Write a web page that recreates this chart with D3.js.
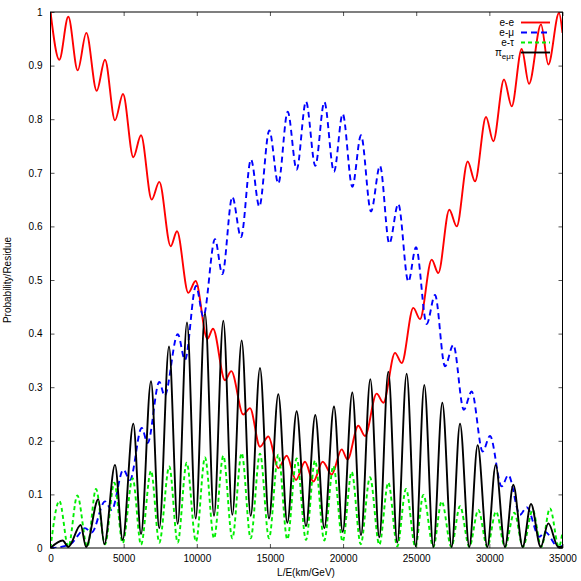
<!DOCTYPE html>
<html>
<head>
<meta charset="utf-8">
<script src="https://cdn.jsdelivr.net/npm/d3@7"></script>
<style>
  html, body { margin: 0; padding: 0; background: #fff; }
  text { font-family: "Liberation Sans", Arial, sans-serif; }
</style>
</head>
<body>
<svg id="chart" width="581" height="581"></svg>
<script>
// ---- Data ----
const xTicks = [0, 5000, 10000, 15000, 20000, 25000, 30000, 35000];
const yTicks = [0, 0.1, 0.2, 0.3, 0.4, 0.5, 0.6, 0.7, 0.8, 0.9, 1];
const legendLabels = ["e-e", "e-μ", "e-τ", "π"];

const eeX = [0, 602, 1217, 1859, 2449, 3158, 3725, 4409, 4956, 5661, 6187, 6918, 7437, 8215, 8648, 9422, 9920, 10720, 11110, 11929, 12360, 13180, 13637, 14321, 14891, 15573, 16146, 16783, 17398, 17968, 18605, 19220, 19906, 20300, 21041, 21499, 22297, 22750, 23550, 24008, 24801, 25259, 26058, 26509, 27261, 27768, 28520, 29019, 29771, 30270, 31002, 31528, 32210, 32710, 33531, 34030, 34761, 35000];
const eeY = [1.0, 0.911, 0.991, 0.891, 0.961, 0.853, 0.911, 0.798, 0.847, 0.729, 0.770, 0.650, 0.683, 0.563, 0.591, 0.476, 0.498, 0.390, 0.409, 0.313, 0.330, 0.249, 0.261, 0.189, 0.208, 0.149, 0.172, 0.127, 0.161, 0.124, 0.161, 0.137, 0.184, 0.165, 0.228, 0.209, 0.288, 0.271, 0.364, 0.345, 0.448, 0.427, 0.538, 0.513, 0.631, 0.600, 0.721, 0.684, 0.804, 0.759, 0.874, 0.824, 0.931, 0.866, 0.977, 0.902, 0.998, 0.961];

const emuX = [0, 700, 1450, 1950, 2358, 2814, 3726, 4182, 4979, 5435, 6233, 6643, 7437, 7800, 8700, 9194, 9946, 10448, 11245, 11746, 12429, 13023, 13706, 14274, 14958, 15573, 16214, 16828, 17466, 18102, 18718, 19380, 19974, 20631, 21226, 21909, 22525, 23160, 23775, 24460, 24986, 25717, 26285, 26968, 27536, 28250, 28791, 29544, 30045, 30843, 31297, 32095, 32553, 33414, 33804, 34711, 35000];
const emuY = [0, 0.002, 0.009, 0.026, 0.037, 0.029, 0.087, 0.071, 0.146, 0.127, 0.224, 0.196, 0.310, 0.284, 0.399, 0.351, 0.489, 0.432, 0.576, 0.511, 0.655, 0.580, 0.725, 0.637, 0.779, 0.680, 0.814, 0.706, 0.833, 0.713, 0.832, 0.702, 0.810, 0.674, 0.770, 0.628, 0.713, 0.568, 0.642, 0.497, 0.561, 0.418, 0.472, 0.339, 0.379, 0.258, 0.292, 0.180, 0.209, 0.115, 0.136, 0.062, 0.076, 0.021, 0.030, 0.002, 0.004];

const etauX = [0, 607, 1219, 1834, 2517, 3110, 3726, 4363, 4933, 5617, 6187, 6870, 7437, 8121, 8695, 9310, 9946, 10562, 11177, 11813, 12429, 13069, 13684, 14321, 14937, 15573, 16188, 16828, 17466, 18081, 18718, 19333, 19974, 20590, 21206, 21841, 22477, 23092, 23706, 24302, 24940, 25486, 26169, 26743, 27400, 27994, 28630, 29245, 29860, 30455, 31070, 31707, 32300, 32963, 33550, 34146, 34750, 35000];
const etauY = [0, 0.088, 0.002, 0.098, 0.002, 0.110, 0.007, 0.122, 0.009, 0.130, 0.006, 0.144, 0.010, 0.152, 0.010, 0.159, 0.012, 0.169, 0.018, 0.172, 0.018, 0.177, 0.018, 0.176, 0.018, 0.174, 0.016, 0.167, 0.015, 0.163, 0.014, 0.153, 0.012, 0.142, 0.007, 0.132, 0.006, 0.122, 0.003, 0.110, 0.002, 0.099, 0.002, 0.087, 0.002, 0.078, 0.002, 0.071, 0.002, 0.068, 0.002, 0.066, 0.002, 0.071, 0.002, 0.074, 0.002, 0.030];

const resX = [0, 832, 1219, 2063, 2427, 3270, 3680, 4409, 4933, 5661, 6187, 6870, 7437, 8101, 8695, 9331, 9925, 10562, 11177, 11813, 12429, 13069, 13684, 14321, 14937, 15573, 16188, 16828, 17466, 18100, 18718, 19380, 19974, 20631, 21226, 21862, 22477, 23092, 23706, 24347, 24965, 25553, 26169, 26785, 27423, 27994, 28630, 29200, 29860, 30433, 31070, 31637, 32275, 32847, 33510, 34030, 34711, 35000];
const resY = [0, 0.014, 0.002, 0.043, 0.002, 0.091, 0.007, 0.155, 0.015, 0.232, 0.026, 0.311, 0.037, 0.376, 0.045, 0.421, 0.055, 0.438, 0.060, 0.424, 0.062, 0.387, 0.060, 0.336, 0.055, 0.287, 0.047, 0.255, 0.041, 0.248, 0.037, 0.264, 0.030, 0.290, 0.024, 0.315, 0.020, 0.329, 0.010, 0.325, 0.003, 0.304, 0.002, 0.271, 0.002, 0.232, 0.002, 0.192, 0.002, 0.155, 0.002, 0.118, 0.002, 0.082, 0.002, 0.046, 0.002, 0.002];

// ---- Drawing ----
const svg = d3.select("#chart");
const L = 50.5, R = 562.5, T = 12, B = 548;
const x = d3.scaleLinear().domain([0, 35000]).range([L, R]);
const y = d3.scaleLinear().domain([0, 1]).range([B, T]);

svg.append("rect").attr("width", 581).attr("height", 581).attr("fill", "#fff");

svg.append("defs").append("clipPath").attr("id", "clip")
  .append("rect").attr("x", L).attr("y", T).attr("width", R - L).attr("height", B - T);

// axes with inward ticks (gnuplot style), mirrored on top/right
const tickLen = 4;
const gx = svg.append("g").attr("transform", `translate(0,${B})`)
  .call(d3.axisBottom(x).tickValues(xTicks).tickFormat(d3.format("d")).tickSizeInner(-tickLen).tickSizeOuter(0).tickPadding(10));
const gxTop = svg.append("g").attr("transform", `translate(0,${T})`)
  .call(d3.axisTop(x).tickValues(xTicks).tickFormat("").tickSizeInner(-tickLen).tickSizeOuter(0));
const gy = svg.append("g").attr("transform", `translate(${L},0)`)
  .call(d3.axisLeft(y).tickValues(yTicks).tickFormat(d => d === 0 ? "0" : d === 1 ? "1" : d3.format(".1f")(d)).tickSizeInner(-tickLen).tickSizeOuter(0).tickPadding(8));
const gyR = svg.append("g").attr("transform", `translate(${R},0)`)
  .call(d3.axisRight(y).tickValues(yTicks).tickFormat("").tickSizeInner(-tickLen).tickSizeOuter(0));

[gx, gxTop, gy, gyR].forEach(g => {
  g.select(".domain").remove();
  g.selectAll(".tick line").attr("stroke", "#555").attr("stroke-width", 1);
  g.selectAll(".tick text").attr("font-size", 10).attr("fill", "#000")
    .attr("font-family", "'Liberation Sans', Arial, sans-serif");
});
gx.selectAll(".tick text").attr("dy", "0.71em").attr("y", 7);

// series
const series = [
  { xs: eeX, ys: eeY, color: "#ff0000", dash: null },
  { xs: emuX, ys: emuY, color: "#0000ff", dash: "6,4" },
  { xs: etauX, ys: etauY, color: "#00ee00", dash: "4,3" },
  { xs: resX, ys: resY, color: "#000000", dash: null }
];
const line = d3.line().x(d => x(d[0])).y(d => y(d[1])).curve(d3.curveMonotoneX);
const plotG = svg.append("g").attr("clip-path", "url(#clip)");
series.forEach(s => {
  const pts = s.xs.map((v, i) => [v, s.ys[i]]);
  plotG.append("path").datum(pts).attr("d", line)
    .attr("fill", "none").attr("stroke", s.color).attr("stroke-width", 1.9)
    .attr("stroke-dasharray", s.dash).attr("stroke-linejoin", "round");
});

// border
svg.append("rect").attr("x", L).attr("y", T).attr("width", R - L).attr("height", B - T)
  .attr("fill", "none").attr("stroke", "#000").attr("stroke-width", 1);

// legend
const lg = svg.append("g");
series.forEach((s, i) => {
  const cy = 22.5 + i * 10;
  const t = lg.append("text").attr("x", 514).attr("y", cy + 3.5).attr("text-anchor", "end")
    .attr("font-size", 10).attr("fill", "#000").text(legendLabels[i]);
  if (i === 3) {
    t.append("tspan").attr("font-size", 8).attr("dy", 3).text("eμτ");
  }
  lg.append("line").attr("x1", 521).attr("x2", 550).attr("y1", cy).attr("y2", cy)
    .attr("stroke", s.color).attr("stroke-width", 1.9).attr("stroke-dasharray", s.dash);
});

// axis titles
svg.append("text").attr("x", 306).attr("y", 576).attr("text-anchor", "middle")
  .attr("font-size", 10).text("L/E(km/GeV)");
svg.append("text").attr("transform", "translate(11,280) rotate(-90)").attr("text-anchor", "middle")
  .attr("font-size", 10).text("Probability/Residue");
</script>
</body>
</html>
